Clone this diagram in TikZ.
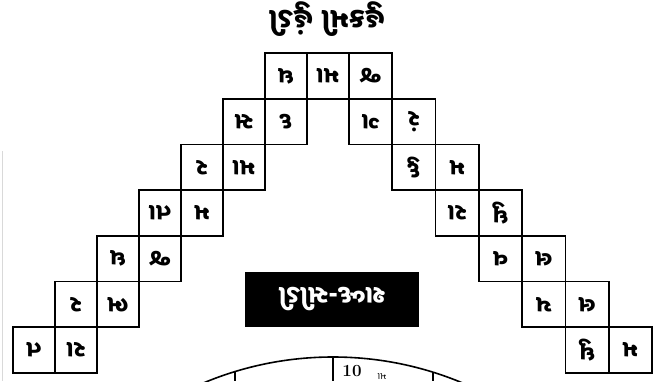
\documentclass[tikz,border=0pt]{standalone}
\usepackage{fontspec}
\newfontfamily\guj[Script=Gujarati]{Noto Sans Gujarati UI}
\begin{document}
\begin{tikzpicture}[x=1pt,y=1pt,
  cell/.style={draw=black, line width=1.7pt, minimum height=45.7pt, inner sep=0pt,
    rotate=180, font=\guj\bfseries\fontsize{24}{25}\selectfont},
  lcell/.style={cell, minimum width=42pt},
  rcell/.style={cell, minimum width=43.3pt},
  rule/.style={line width=1.6pt}]
\useasboundingbox (0,0) rectangle (653,381);
\def\ry#1{305.15-45.7*#1}
% title (upside down)
\node (title) [rotate=180, font=\guj\bfseries\fontsize{29}{30}\selectfont] at (327,362) {હુકમી હુંડી};
% apex row
\node (a1) [lcell] at (286,{\ry{0}}) {ધ};
\node (a2) [lcell] at (328,{\ry{0}}) {મા};
\node (a3) [rcell] at (370.65,{\ry{0}}) {જ};
% left arm
\node (l21) [lcell] at ({13+42*5+21},{\ry{1}}) {સ};
\node (l22) [lcell] at ({13+42*6+21},{\ry{1}}) {દ};
\node (l31) [lcell] at ({13+42*4+21},{\ry{2}}) {ર};
\node (l32) [lcell] at ({13+42*5+21},{\ry{2}}) {મા};
\node (l41) [lcell] at ({13+42*3+21},{\ry{3}}) {તા};
\node (l42) [lcell] at ({13+42*4+21},{\ry{3}}) {મ};
\node (l51) [lcell] at ({13+42*2+21},{\ry{4}}) {ધ};
\node (l52) [lcell] at ({13+42*3+21},{\ry{4}}) {જ};
\node (l61) [lcell] at ({13+42*1+21},{\ry{5}}) {ર};
\node (l62) [lcell] at ({13+42*2+21},{\ry{5}}) {ભ};
\node (l71) [lcell] at ({13+21},{\ry{6}}) {ત};
\node (l72) [lcell] at ({13+42+21},{\ry{6}}) {રા};
% right arm
\node (r21) [rcell] at ({349+43.3*0+21.65},{\ry{1}}) {ગ};
\node (r22) [rcell] at ({349+43.3*1+21.65},{\ry{1}}) {રં};
\node (r31) [rcell] at ({349+43.3*1+21.65},{\ry{2}}) {દુ};
\node (r32) [rcell] at ({349+43.3*2+21.65},{\ry{2}}) {મ};
\node (r41) [rcell] at ({349+43.3*2+21.65},{\ry{3}}) {રા};
\node (r42) [rcell] at ({349+43.3*3+21.65},{\ry{3}}) {ધુ};
\node (r51) [rcell] at ({349+43.3*3+21.65},{\ry{4}}) {વ};
\node (r52) [rcell] at ({349+43.3*4+21.65},{\ry{4}}) {લ};
\node (r61) [rcell] at ({349+43.3*4+21.65},{\ry{5}}) {ય};
\node (r62) [rcell] at ({349+43.3*5+21.65},{\ry{5}}) {લ};
\node (r71) [rcell] at ({349+43.3*5+21.65},{\ry{6}}) {ધુ};
\node (r72) [rcell] at ({349+43.3*6+21.65},{\ry{6}}) {મ};
% black label
\node (label) [fill=black, text=white, minimum width=174pt, minimum height=55pt, inner sep=0pt,
  rotate=180, font=\guj\bfseries\fontsize{26}{27}\selectfont] at (332,81.5) {શબ્દ-સીડી};
% faint scan edge
\coordinate (e1) at (2.5,230);
\coordinate (e2) at (2.5,0);
\draw[gray!30, line width=0.8pt] (e1) -- (e2);
% circle at the bottom
\begin{scope}
\clip (0,0) rectangle (653,381);
\coordinate (cc) at (333,-311);
\draw[rule] (cc) circle (335);
\coordinate (top) at (333,24);
\coordinate (bot) at (333,0);
\draw[rule] (top) -- (bot);
\coordinate (t1) at (235,9.3);
\coordinate (t1b) at (235,0);
\coordinate (t2) at (433,9);
\coordinate (t2b) at (433,0);
\draw[line width=1.2pt] (t1) -- (t1b);
\draw[line width=1.2pt] (t2) -- (t2b);
\end{scope}
\node (ten) [font=\bfseries\fontsize{17}{17}\selectfont] at (352,10) {10};
\node (tensub) [rotate=180, font=\guj\fontsize{10}{10}\selectfont] at (382,4) {મા};
\end{tikzpicture}
\end{document}
